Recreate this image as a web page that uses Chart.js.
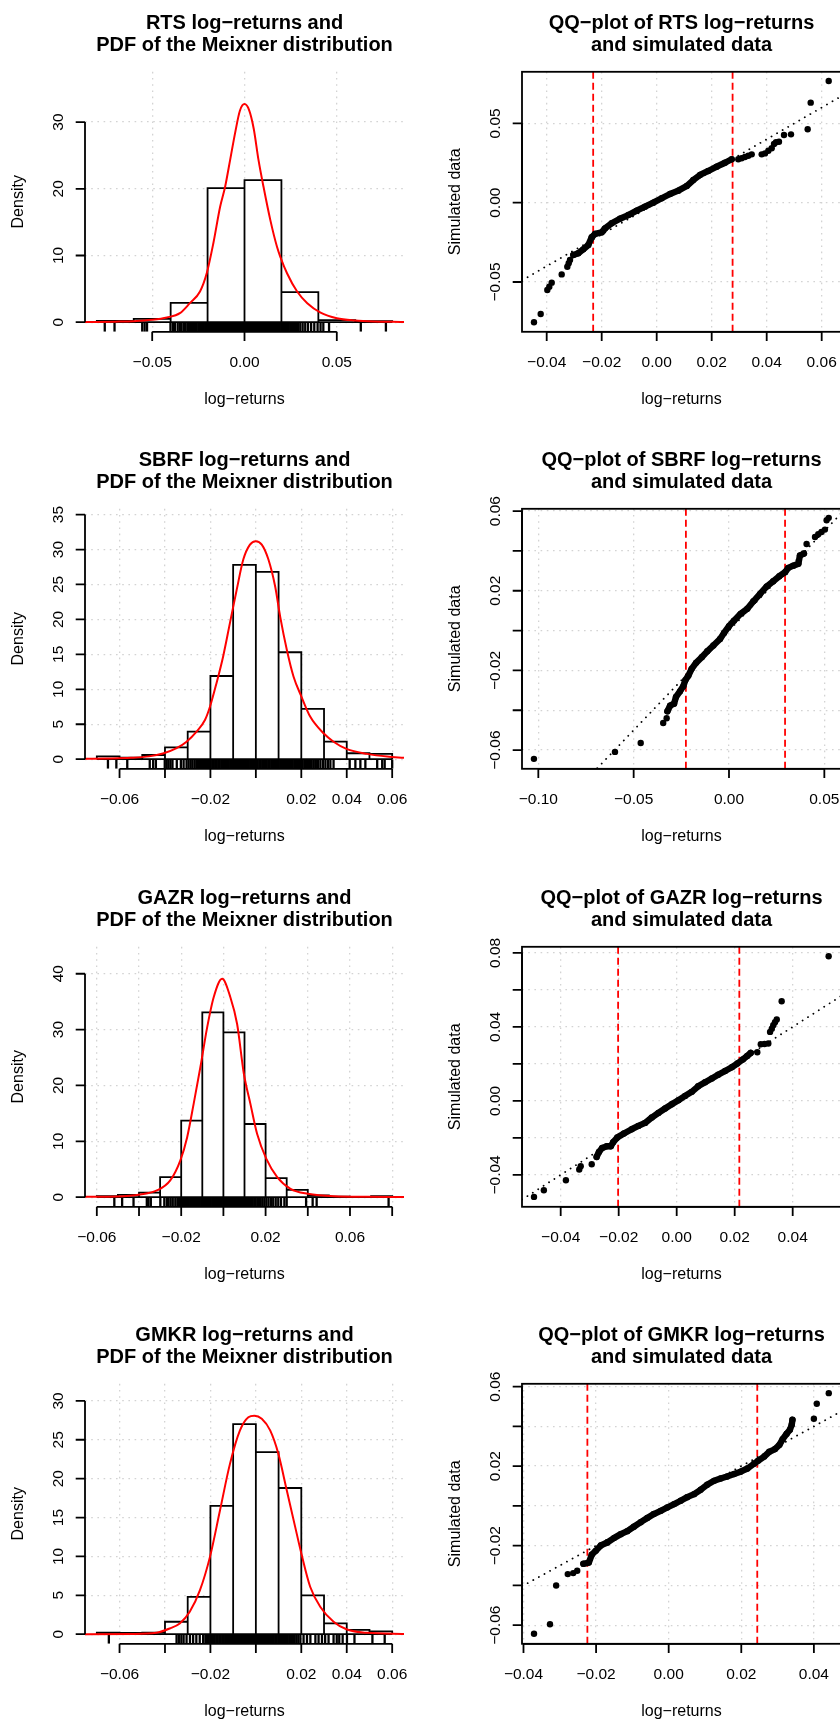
<!DOCTYPE html>
<html lang="en">
<head>
<meta charset="utf-8">
<title>Log-returns, Meixner PDF and QQ-plots</title>
<script src="https://cdn.jsdelivr.net/npm/chart.js@4.4.1/dist/chart.umd.min.js"></script>
<style>
  html, body { margin: 0; padding: 0; background: #ffffff; }
  body { width: 840px; height: 1721px; overflow: hidden; position: relative; }
  canvas { position: absolute; display: block; }
</style>
</head>
<body>
<canvas id="histRTS"  width="437" height="437" style="left:0px;top:0px;width:437px;height:437px"></canvas>
<canvas id="qqRTS"    width="437" height="437" style="left:437px;top:0px;width:437px;height:437px"></canvas>
<canvas id="histSBRF" width="437" height="437" style="left:0px;top:437px;width:437px;height:437px"></canvas>
<canvas id="qqSBRF"   width="437" height="437" style="left:437px;top:437px;width:437px;height:437px"></canvas>
<canvas id="histGAZR" width="437" height="437" style="left:0px;top:875px;width:437px;height:437px"></canvas>
<canvas id="qqGAZR"   width="437" height="437" style="left:437px;top:875px;width:437px;height:437px"></canvas>
<canvas id="histGMKR" width="437" height="437" style="left:0px;top:1312px;width:437px;height:437px"></canvas>
<canvas id="qqGMKR"   width="437" height="437" style="left:437px;top:1312px;width:437px;height:437px"></canvas>
<script>
// ======================= DATA =======================
const assets = ['RTS', 'SBRF', 'GAZR', 'GMKR'];

// ---- RTS ----
const histRtsBreaks  = [-0.08, -0.06, -0.04, -0.02, 0, 0.02, 0.04, 0.06, 0.08];
const histRtsDensity = [0.2, 0.5, 2.9, 20.1, 21.3, 4.5, 0.3, 0.15];
const histRtsXlim = [-0.08, 0.08];
const histRtsYmax = 36.1;
const pdfRtsX = [-0.0864, -0.08, -0.07, -0.06, -0.05, -0.042, -0.035, -0.0296, -0.0241, -0.0205, -0.0169, -0.0132, -0.0105, -0.0078, -0.005, -0.0025, 0, 0.0025, 0.005, 0.0076, 0.0103, 0.014, 0.0176, 0.0194, 0.0231, 0.0285, 0.034, 0.0412, 0.05, 0.06, 0.07, 0.08, 0.0864];
const pdfRtsY = [0.03, 0.04, 0.08, 0.15, 0.35, 0.7, 1.35, 2.85, 4.6, 7.3, 11.8, 17.3, 20.3, 24.3, 28.5, 31.7, 32.7, 31.8, 29.0, 24.3, 20.3, 15.3, 11.3, 9.8, 7.3, 4.6, 2.85, 1.44, 0.6, 0.25, 0.1, 0.05, 0.04];
const rugRts = [-0.0757, -0.0704, -0.0554, -0.0541, -0.0528, -0.0401, -0.0388, -0.0377, -0.0362, -0.0351, -0.0343, -0.0331, -0.0322, -0.0310, -0.0301, -0.0292, -0.0284, -0.0274, -0.0266, -0.0259, -0.0250, -0.0243, -0.0235, -0.0228, -0.0221, -0.0213, -0.0207, -0.0199, -0.0192, -0.0186, -0.0179, -0.0172, -0.0166, -0.0159, -0.0153, -0.0146, -0.0140, -0.0133, -0.0127, -0.0120, -0.0114, -0.0108, -0.0101, -0.0095, -0.0089, -0.0082, -0.0076, -0.0070, -0.0063, -0.0057, -0.0051, -0.0045, -0.0038, -0.0032, -0.0026, -0.0019, -0.0013, -0.0007, 0.0000, 0.0006, 0.0012, 0.0019, 0.0025, 0.0031, 0.0038, 0.0044, 0.0050, 0.0057, 0.0063, 0.0069, 0.0076, 0.0082, 0.0089, 0.0095, 0.0102, 0.0108, 0.0115, 0.0121, 0.0128, 0.0135, 0.0141, 0.0148, 0.0155, 0.0162, 0.0169, 0.0176, 0.0184, 0.0191, 0.0199, 0.0206, 0.0214, 0.0223, 0.0231, 0.0240, 0.0249, 0.0258, 0.0268, 0.0279, 0.0290, 0.0302, 0.0315, 0.0329, 0.0344, 0.0361, 0.0378, 0.0396, 0.0412, 0.0427, 0.0458, 0.0630, 0.0766];
const histRtsXTicks  = [-0.05, 0, 0.05];
const histRtsXLabels = ['−0.05', '0.00', '0.05'];
const histRtsYTicks  = [0, 10, 20, 30];
const histRtsYLabels = ['0', '10', '20', '30'];

const qqRtsBodyX = [-0.03032, -0.02851, -0.02669, -0.02487, -0.02364, -0.02244, -0.0200, -0.0188, -0.01636, -0.01335, -0.01032, -0.00727, -0.00425, -0.00124, 0.00182, 0.00484, 0.00785, 0.01091, 0.01331, 0.01575, 0.01876, 0.02182, 0.02484, 0.02727];
const qqRtsBodyY = [-0.0330, -0.0319, -0.0294, -0.0267, -0.0218, -0.0197, -0.0187, -0.0162, -0.0130, -0.0101, -0.0078, -0.0050, -0.0025, 0.0000, 0.0028, 0.0055, 0.0076, 0.0105, 0.0143, 0.0175, 0.0200, 0.0227, 0.0252, 0.0274];
const qqRtsTailX = [-0.04462, -0.04218, -0.03978, -0.03905, -0.03818, -0.03455, -0.0325, -0.0320, -0.03153, 0.02967, 0.03088, 0.03209, 0.0333, 0.03455, 0.03818, 0.03939, 0.0406, 0.04182, 0.04267, 0.04339, 0.04447, 0.04629, 0.04884, 0.0549, 0.056, 0.06255];
const qqRtsTailY = [-0.0754, -0.0702, -0.0550, -0.0530, -0.0504, -0.0452, -0.0404, -0.0382, -0.0361, 0.0274, 0.0280, 0.0288, 0.0296, 0.0305, 0.0305, 0.0311, 0.0328, 0.0343, 0.0370, 0.0381, 0.0384, 0.0427, 0.0431, 0.0463, 0.0631, 0.0767];
const qqRtsQuantiles = [-0.0231, 0.0276];
const qqRtsXlim = [-0.04898, 0.06702];
const qqRtsYlim = [-0.0814, 0.08254];
const qqRtsXTicks  = [-0.04, -0.02, 0, 0.02, 0.04, 0.06];
const qqRtsXLabels = ['−0.04', '−0.02', '0.00', '0.02', '0.04', '0.06'];
const qqRtsYTicks  = [-0.05, 0, 0.05];
const qqRtsYLabels = ['−0.05', '0.00', '0.05'];

// ---- SBRF ----
const histSbrfBreaks  = [-0.07, -0.06, -0.05, -0.04, -0.03, -0.02, -0.01, 0, 0.01, 0.02, 0.03, 0.04, 0.05, 0.06];
const histSbrfDensity = [0.4, 0.2, 0.6, 1.7, 3.95, 11.9, 27.8, 26.8, 15.3, 7.2, 2.5, 0.85, 0.75];
const histSbrfXlim = [-0.07, 0.06];
const histSbrfYmax = 34.45;
const pdfSbrfX = [-0.0752, -0.065, -0.055, -0.047, -0.0409, -0.0349, -0.0305, -0.0261, -0.0224, -0.0202, -0.0173, -0.0144, -0.0114, -0.0084, -0.0055, -0.0026, 0, 0.0026, 0.0055, 0.0085, 0.0107, 0.0136, 0.0166, 0.02, 0.0239, 0.0298, 0.0342, 0.0401, 0.049, 0.0578, 0.0652];
const pdfSbrfY = [0.05, 0.1, 0.2, 0.4, 0.8, 1.57, 2.5, 3.95, 5.6, 7.5, 10.9, 14.7, 19.5, 24.3, 28.6, 30.7, 31.2, 30.7, 28.6, 24.7, 20.4, 15.7, 11.8, 9.0, 6.1, 3.7, 2.5, 1.43, 0.76, 0.37, 0.2];
const rugSbrf = [-0.0651, -0.0614, -0.0566, -0.0467, -0.0452, -0.0440, -0.0401, -0.0393, -0.0385, -0.0376, -0.0367, -0.0348, -0.0330, -0.0318, -0.0305, -0.0296, -0.0287, -0.0279, -0.0270, -0.0262, -0.0254, -0.0246, -0.0240, -0.0233, -0.0227, -0.0220, -0.0212, -0.0206, -0.0199, -0.0192, -0.0186, -0.0179, -0.0172, -0.0165, -0.0159, -0.0152, -0.0145, -0.0139, -0.0132, -0.0125, -0.0119, -0.0112, -0.0105, -0.0099, -0.0092, -0.0085, -0.0079, -0.0072, -0.0065, -0.0059, -0.0052, -0.0045, -0.0039, -0.0032, -0.0025, -0.0019, -0.0012, -0.0005, 0.0001, 0.0008, 0.0015, 0.0021, 0.0028, 0.0035, 0.0041, 0.0048, 0.0055, 0.0061, 0.0068, 0.0075, 0.0081, 0.0088, 0.0095, 0.0101, 0.0108, 0.0115, 0.0121, 0.0128, 0.0135, 0.0141, 0.0148, 0.0155, 0.0162, 0.0169, 0.0176, 0.0183, 0.0190, 0.0198, 0.0205, 0.0213, 0.0221, 0.0229, 0.0238, 0.0246, 0.0255, 0.0264, 0.0274, 0.0284, 0.0295, 0.0306, 0.0317, 0.0328, 0.0342, 0.0413, 0.0438, 0.0460, 0.0482, 0.0534, 0.0556, 0.0567, 0.0600];
const histSbrfXTicks  = [-0.06, -0.04, -0.02, 0, 0.02, 0.04, 0.06];
const histSbrfXLabels = ['−0.06', '', '−0.02', '', '0.02', '0.04', '0.06'];
const histSbrfYTicks  = [0, 5, 10, 15, 20, 25, 30, 35];
const histSbrfYLabels = ['0', '5', '10', '15', '20', '25', '30', '35'];

const qqSbrfBodyX = [-0.0323, -0.0309, -0.0288, -0.0278, -0.0257, -0.0240, -0.0229, -0.0213, -0.0196, -0.0173, -0.0143, -0.0114, -0.0082, -0.0047, -0.0026, 0.0000, 0.0026, 0.0061, 0.0096, 0.0128, 0.0163, 0.0198, 0.0232, 0.0264, 0.0294, 0.0311, 0.0337, 0.0364, 0.0372, 0.0393];
const qqSbrfBodyY = [-0.0405, -0.0377, -0.0367, -0.0333, -0.0305, -0.0280, -0.0249, -0.0226, -0.0192, -0.0162, -0.0134, -0.0104, -0.0075, -0.0042, -0.0012, 0.0022, 0.0050, 0.0084, 0.0110, 0.0147, 0.0184, 0.0222, 0.0248, 0.0273, 0.0293, 0.0315, 0.0326, 0.0336, 0.0377, 0.0387];
const qqSbrfTailX = [-0.1023, -0.0598, -0.0463, -0.0345, -0.0327, 0.0407, 0.0451, 0.0468, 0.0485, 0.0503, 0.0512, 0.0523];
const qqSbrfTailY = [-0.0644, -0.0609, -0.0564, -0.0464, -0.0440, 0.0435, 0.0470, 0.0484, 0.0495, 0.0507, 0.0554, 0.0566];
const qqSbrfQuantiles = [-0.0226, 0.0294];
const qqSbrfXlim = [-0.10856, 0.05874];
const qqSbrfYlim = [-0.06939, 0.06115];
const qqSbrfXTicks  = [-0.10, -0.05, 0, 0.05];
const qqSbrfXLabels = ['−0.10', '−0.05', '0.00', '0.05'];
const qqSbrfYTicks  = [-0.06, -0.04, -0.02, 0, 0.02, 0.04, 0.06];
const qqSbrfYLabels = ['−0.06', '', '−0.02', '', '0.02', '', '0.06'];

// ---- GAZR ----
const histGazrBreaks  = [-0.06, -0.05, -0.04, -0.03, -0.02, -0.01, 0, 0.01, 0.02, 0.03, 0.04, 0.05, 0.06, 0.07, 0.08];
const histGazrDensity = [0.2, 0.4, 0.8, 3.6, 13.7, 33.1, 29.5, 13.1, 3.4, 1.3, 0.3, 0.1, 0, 0.2];
const histGazrXlim = [-0.06, 0.08];
const histGazrYmax = 43.1;
const pdfGazrX = [-0.0656, -0.0505, -0.0394, -0.0315, -0.0252, -0.0204, -0.0172, -0.0141, -0.0109, -0.0077, -0.0046, -0.0006, 0.0033, 0.0065, 0.0097, 0.0128, 0.016, 0.0203, 0.0255, 0.0318, 0.04, 0.0524, 0.0683, 0.0856];
const pdfGazrY = [0.06, 0.12, 0.48, 1.2, 3.0, 6.6, 10.7, 16.7, 23.3, 30.4, 35.8, 39.1, 35.8, 31.0, 22.1, 16.7, 11.3, 6.9, 3.6, 1.5, 0.6, 0.15, 0.06, 0.03];
const rugGazr = [-0.0517, -0.0480, -0.0426, -0.0363, -0.0355, -0.0344, -0.0299, -0.0280, -0.0268, -0.0260, -0.0250, -0.0240, -0.0228, -0.0218, -0.0210, -0.0204, -0.0197, -0.0191, -0.0184, -0.0177, -0.0171, -0.0164, -0.0157, -0.0151, -0.0144, -0.0138, -0.0131, -0.0125, -0.0118, -0.0112, -0.0105, -0.0099, -0.0092, -0.0086, -0.0079, -0.0073, -0.0066, -0.0060, -0.0053, -0.0047, -0.0040, -0.0034, -0.0027, -0.0021, -0.0014, -0.0008, -0.0001, 0.0005, 0.0012, 0.0018, 0.0025, 0.0031, 0.0038, 0.0044, 0.0051, 0.0057, 0.0064, 0.0070, 0.0077, 0.0083, 0.0090, 0.0097, 0.0103, 0.0110, 0.0117, 0.0124, 0.0131, 0.0138, 0.0146, 0.0153, 0.0161, 0.0169, 0.0177, 0.0186, 0.0195, 0.0204, 0.0214, 0.0225, 0.0236, 0.0248, 0.0260, 0.0273, 0.0289, 0.0300, 0.0392, 0.0423, 0.0442, 0.0783];
const histGazrXTicks  = [-0.06, -0.04, -0.02, 0, 0.02, 0.04, 0.06, 0.08];
const histGazrXLabels = ['−0.06', '', '−0.02', '', '0.02', '', '0.06', ''];
const histGazrYTicks  = [0, 10, 20, 30, 40];
const histGazrYLabels = ['0', '10', '20', '30', '40'];

const qqGazrBodyX = [-0.0276, -0.0268, -0.0257, -0.0241, -0.0227, -0.0219, -0.0205, -0.0182, -0.0155, -0.0132, -0.0109, -0.0086, -0.0063, -0.0040, -0.0017, 0.0006, 0.0029, 0.0052, 0.0074, 0.0098, 0.0121, 0.0143, 0.0167, 0.0190, 0.0209, 0.0228, 0.0243, 0.0255];
const qqGazrBodyY = [-0.0303, -0.0276, -0.0254, -0.0245, -0.0245, -0.0223, -0.0198, -0.0176, -0.0153, -0.0135, -0.0119, -0.0090, -0.0065, -0.0041, -0.0018, 0.0004, 0.0027, 0.0049, 0.0079, 0.0101, 0.0121, 0.0141, 0.0162, 0.0182, 0.0202, 0.0224, 0.0243, 0.0259];
const qqGazrTailX = [-0.0492, -0.0458, -0.0382, -0.0336, -0.0331, -0.0293, 0.0278, 0.0290, 0.0303, 0.0316, 0.0322, 0.0328, 0.0333, 0.0339, 0.0345, 0.0362, 0.0524];
const qqGazrTailY = [-0.0519, -0.0483, -0.0429, -0.0371, -0.0353, -0.0342, 0.0263, 0.0306, 0.0308, 0.0310, 0.0373, 0.0390, 0.0409, 0.0425, 0.0440, 0.0539, 0.0782];
const qqGazrQuantiles = [-0.0202, 0.0216];
const qqGazrXlim = [-0.05334, 0.05666];
const qqGazrYlim = [-0.05724, 0.0833];
const qqGazrXTicks  = [-0.04, -0.02, 0, 0.02, 0.04];
const qqGazrXLabels = ['−0.04', '−0.02', '0.00', '0.02', '0.04'];
const qqGazrYTicks  = [-0.04, -0.02, 0, 0.02, 0.04, 0.06, 0.08];
const qqGazrYLabels = ['−0.04', '', '0.00', '', '0.04', '', '0.08'];

// ---- GMKR ----
const histGmkrBreaks  = [-0.07, -0.06, -0.05, -0.04, -0.03, -0.02, -0.01, 0, 0.01, 0.02, 0.03, 0.04, 0.05, 0.06];
const histGmkrDensity = [0.2, 0.15, 0.2, 1.6, 4.8, 16.5, 27.0, 23.4, 18.8, 5.0, 1.4, 0.56, 0.35];
const histGmkrXlim = [-0.07, 0.06];
const histGmkrYmax = 30.96;
const pdfGmkrX = [-0.0752, -0.0541, -0.0438, -0.0379, -0.0335, -0.0291, -0.0246, -0.0202, -0.0158, -0.0114, -0.007, -0.0033, -0.0007, 0.0026, 0.0063, 0.0099, 0.0136, 0.0173, 0.02, 0.0239, 0.0284, 0.0342, 0.0401, 0.049, 0.0652];
const pdfGmkrY = [0.0, 0.02, 0.17, 0.73, 1.37, 2.87, 5.66, 9.94, 15.9, 21.9, 26.2, 27.9, 28.1, 27.7, 26.2, 23.2, 18.5, 13.8, 10.4, 6.1, 3.5, 1.6, 0.6, 0.17, 0.03];
const rugGmkr = [-0.0647, -0.0349, -0.0339, -0.0328, -0.0318, -0.0305, -0.0290, -0.0276, -0.0262, -0.0247, -0.0232, -0.0222, -0.0215, -0.0208, -0.0201, -0.0194, -0.0188, -0.0181, -0.0174, -0.0168, -0.0161, -0.0155, -0.0148, -0.0142, -0.0135, -0.0129, -0.0122, -0.0116, -0.0109, -0.0103, -0.0096, -0.0090, -0.0083, -0.0077, -0.0070, -0.0064, -0.0057, -0.0051, -0.0044, -0.0038, -0.0031, -0.0025, -0.0018, -0.0012, -0.0005, 0.0001, 0.0008, 0.0014, 0.0021, 0.0027, 0.0034, 0.0040, 0.0047, 0.0053, 0.0060, 0.0066, 0.0073, 0.0079, 0.0086, 0.0092, 0.0099, 0.0106, 0.0112, 0.0119, 0.0126, 0.0133, 0.0140, 0.0147, 0.0155, 0.0163, 0.0171, 0.0179, 0.0187, 0.0196, 0.0210, 0.0225, 0.0240, 0.0262, 0.0276, 0.0291, 0.0305, 0.0320, 0.0342, 0.0356, 0.0367, 0.0382, 0.0401, 0.0434, 0.0513, 0.0567];
const histGmkrXTicks  = [-0.06, -0.04, -0.02, 0, 0.02, 0.04, 0.06];
const histGmkrXLabels = ['−0.06', '', '−0.02', '', '0.02', '0.04', '0.06'];
const histGmkrYTicks  = [0, 5, 10, 15, 20, 25, 30];
const histGmkrYLabels = ['0', '5', '10', '15', '20', '25', '30'];

const qqGmkrBodyX = [-0.0235, -0.0220, -0.0212, -0.0201, -0.0187, -0.0169, -0.0151, -0.0132, -0.0114, -0.0096, -0.0077, -0.0059, -0.0041, -0.0022, -0.0004, 0.0015, 0.0033, 0.0051, 0.0070, 0.0088, 0.0106, 0.0125, 0.0143, 0.0161, 0.0180, 0.0198, 0.0217, 0.0235, 0.0247, 0.0263, 0.0277, 0.0293, 0.0305, 0.0314, 0.0325, 0.0334, 0.0339, 0.0341];
const qqGmkrBodyY = [-0.0291, -0.0285, -0.0246, -0.0226, -0.0199, -0.0184, -0.0162, -0.0142, -0.0127, -0.0105, -0.0082, -0.0061, -0.0041, -0.0025, -0.0008, 0.0009, 0.0026, 0.0044, 0.0059, 0.0081, 0.0106, 0.0126, 0.0138, 0.0148, 0.0160, 0.0172, 0.0188, 0.0212, 0.0228, 0.0248, 0.0272, 0.0286, 0.0307, 0.0336, 0.0363, 0.0383, 0.0408, 0.0433];
const qqGmkrTailX = [-0.0371, -0.0327, -0.0310, -0.0278, -0.0263, -0.0252, 0.0400, 0.0408, 0.0441];
const qqGmkrTailY = [-0.0643, -0.0595, -0.0400, -0.0343, -0.0338, -0.0326, 0.0438, 0.0514, 0.0567];
const qqGmkrQuantiles = [-0.0224, 0.0244];
const qqGmkrXlim = [-0.04041, 0.04747];
const qqGmkrYlim = [-0.06936, 0.06141];
const qqGmkrXTicks  = [-0.04, -0.02, 0, 0.02, 0.04];
const qqGmkrXLabels = ['−0.04', '−0.02', '0.00', '0.02', '0.04'];
const qqGmkrYTicks  = [-0.06, -0.04, -0.02, 0, 0.02, 0.04, 0.06];
const qqGmkrYLabels = ['−0.06', '', '−0.02', '', '0.02', '', '0.06'];

// reference line of the QQ-plots: intercept, slope
const qqLineCoef = [0, 1];

// ======================= STYLE / LAYOUT =======================
const FONT = '"Liberation Sans", Arial, Helvetica, sans-serif';
const SIZE = 437;
const PAD = { left: 85, top: 71.8, right: 33, bottom: 105.2 };
const PLOT_H = SIZE - PAD.top - PAD.bottom;
const RUG_LEN = 9.3;

// R-style axes, box, titles
const rPlot = {
  id: 'rPlot',
  afterDraw(chart, args, o) {
    const ctx = chart.ctx, a = chart.chartArea;
    const sx = chart.scales.x, sy = chart.scales.y;
    const cx = (a.left + a.right) / 2, cy = (a.top + a.bottom) / 2;
    ctx.save();
    ctx.strokeStyle = '#000'; ctx.fillStyle = '#000';
    ctx.lineWidth = 1.8; ctx.setLineDash([]); ctx.lineCap = 'butt';
    if (o.box) ctx.strokeRect(a.left, a.top, a.right - a.left, a.bottom - a.top);
    const xp = o.xTicks.map(v => sx.getPixelForValue(v));
    const yp = o.yTicks.map(v => sy.getPixelForValue(v));
    ctx.beginPath();
    ctx.moveTo(xp[0], a.bottom); ctx.lineTo(xp[xp.length - 1], a.bottom);
    xp.forEach(p => { ctx.moveTo(p, a.bottom); ctx.lineTo(p, a.bottom + 9.3); });
    ctx.moveTo(a.left, yp[0]); ctx.lineTo(a.left, yp[yp.length - 1]);
    yp.forEach(p => { ctx.moveTo(a.left, p); ctx.lineTo(a.left - 9.3, p); });
    ctx.stroke();

    ctx.font = '15.5px ' + FONT;
    ctx.textAlign = 'center'; ctx.textBaseline = 'alphabetic';
    xp.forEach((p, i) => { if (o.xLabels[i]) ctx.fillText(o.xLabels[i], p, a.bottom + 34.7); });
    yp.forEach((p, i) => {
      if (!o.yLabels[i]) return;
      ctx.save(); ctx.translate(a.left - 22.5, p); ctx.rotate(-Math.PI / 2);
      ctx.fillText(o.yLabels[i], 0, 0); ctx.restore();
    });

    ctx.font = '16px ' + FONT;
    ctx.fillText(o.xlab, cx, a.bottom + 71.7);
    ctx.save(); ctx.translate(23, cy); ctx.rotate(-Math.PI / 2);
    ctx.fillText(o.ylab, 0, 0); ctx.restore();

    ctx.font = 'bold 20px ' + FONT;
    ctx.fillText(o.title[0], cx, 28.5);
    ctx.fillText(o.title[1], cx, 51);
    ctx.restore();
  }
};

function gridScale(min, max, ticks) {
  return {
    type: 'linear', min: min, max: max,
    ticks: { display: false },
    grid: { color: '#d3d3d3', lineWidth: 1.3, drawTicks: false },
    border: { display: false, dash: [1.6, 4.6] },
    afterBuildTicks: s => { s.ticks = ticks.map(v => ({ value: v })); }
  };
}

function baseOptions(xr, yr, p, extra) {
  return {
    responsive: false, maintainAspectRatio: false, animation: false,
    devicePixelRatio: 1, events: [],
    layout: { padding: PAD },
    scales: { x: gridScale(xr[0], xr[1], p.xTicks), y: gridScale(yr[0], yr[1], p.yTicks) },
    plugins: {
      legend: { display: false }, tooltip: { enabled: false }, title: { display: false },
      rPlot: Object.assign({ xTicks: p.xTicks, xLabels: p.xLabels, yTicks: p.yTicks, yLabels: p.yLabels }, extra)
    }
  };
}

function extendRange(lim) { const d = (lim[1] - lim[0]) * 0.04; return [lim[0] - d, lim[1] + d]; }

function histChart(id, name, p) {
  const xr = extendRange(p.xlim);
  const yr = [-0.04 * p.ymax, 1.04 * p.ymax];
  const outline = [];
  p.density.forEach((h, i) => {
    outline.push({ x: p.breaks[i], y: 0 }, { x: p.breaks[i], y: h },
                 { x: p.breaks[i + 1], y: h }, { x: p.breaks[i + 1], y: 0 });
  });
  const rugY = yr[0] + (yr[1] - yr[0]) * (RUG_LEN / 2) / PLOT_H;
  new Chart(document.getElementById(id), {
    type: 'scatter',
    data: { datasets: [
      { data: p.pdfX.map((x, i) => ({ x: x, y: p.pdfY[i] })), showLine: true,
        borderColor: '#ff0000', borderWidth: 2, pointRadius: 0, cubicInterpolationMode: 'monotone', order: 1 },
      { data: p.rug.map(x => ({ x: x, y: rugY })), showLine: false, pointStyle: 'line', pointRotation: 90,
        pointRadius: RUG_LEN / 2, pointBorderWidth: 2.3, pointBorderColor: '#000', order: 2 },
      { data: [{ x: p.breaks[0], y: 0 }, { x: p.breaks[p.breaks.length - 1], y: 0 }], showLine: true,
        borderColor: '#000', borderWidth: 1.8, pointRadius: 0, order: 3 },
      { data: outline, showLine: true, borderColor: '#000', borderWidth: 1.8, pointRadius: 0,
        fill: 'origin', backgroundColor: '#ffffff', tension: 0, order: 4 }
    ]},
    options: baseOptions(xr, yr, p, {
      box: false, xlab: 'log−returns', ylab: 'Density',
      title: [name + ' log−returns and', 'PDF of the Meixner distribution']
    }),
    plugins: [rPlot]
  });
}

function qqChart(id, name, p) {
  const xr = p.xlim, yr = p.ylim;
  const datasets = [
    { data: p.bodyX.map((x, i) => ({ x: x, y: p.bodyY[i] })), showLine: true,
      borderColor: '#000', borderWidth: 6.4, borderCapStyle: 'round', borderJoinStyle: 'round',
      pointRadius: 3.2, pointBackgroundColor: '#000', pointBorderWidth: 0, order: 1 },
    { data: p.tailX.map((x, i) => ({ x: x, y: p.tailY[i] })), showLine: false,
      pointRadius: 3.2, pointBackgroundColor: '#000', pointBorderWidth: 0, order: 1 },
    { data: [xr[0], xr[1]].map(x => ({ x: x, y: qqLineCoef[0] + qqLineCoef[1] * x })), showLine: true,
      borderColor: '#000', borderWidth: 1.8, borderDash: [0.1, 6.3], borderCapStyle: 'round',
      pointRadius: 0, order: 2 }
  ];
  p.quantiles.forEach(q => datasets.push({
    data: [{ x: q, y: yr[0] }, { x: q, y: yr[1] }], showLine: true,
    borderColor: '#ff0000', borderWidth: 1.8, borderDash: [7, 4], pointRadius: 0, order: 3
  }));
  new Chart(document.getElementById(id), {
    type: 'scatter',
    data: { datasets: datasets },
    options: baseOptions(xr, yr, p, {
      box: true, xlab: 'log−returns', ylab: 'Simulated data',
      title: ['QQ−plot of ' + name + ' log−returns', 'and simulated data']
    }),
    plugins: [rPlot]
  });
}

// ======================= BUILD =======================
histChart('histRTS', assets[0], { breaks: histRtsBreaks, density: histRtsDensity, xlim: histRtsXlim, ymax: histRtsYmax,
  pdfX: pdfRtsX, pdfY: pdfRtsY, rug: rugRts, xTicks: histRtsXTicks, xLabels: histRtsXLabels, yTicks: histRtsYTicks, yLabels: histRtsYLabels });
qqChart('qqRTS', assets[0], { bodyX: qqRtsBodyX, bodyY: qqRtsBodyY, tailX: qqRtsTailX, tailY: qqRtsTailY, quantiles: qqRtsQuantiles,
  xlim: qqRtsXlim, ylim: qqRtsYlim, xTicks: qqRtsXTicks, xLabels: qqRtsXLabels, yTicks: qqRtsYTicks, yLabels: qqRtsYLabels });

histChart('histSBRF', assets[1], { breaks: histSbrfBreaks, density: histSbrfDensity, xlim: histSbrfXlim, ymax: histSbrfYmax,
  pdfX: pdfSbrfX, pdfY: pdfSbrfY, rug: rugSbrf, xTicks: histSbrfXTicks, xLabels: histSbrfXLabels, yTicks: histSbrfYTicks, yLabels: histSbrfYLabels });
qqChart('qqSBRF', assets[1], { bodyX: qqSbrfBodyX, bodyY: qqSbrfBodyY, tailX: qqSbrfTailX, tailY: qqSbrfTailY, quantiles: qqSbrfQuantiles,
  xlim: qqSbrfXlim, ylim: qqSbrfYlim, xTicks: qqSbrfXTicks, xLabels: qqSbrfXLabels, yTicks: qqSbrfYTicks, yLabels: qqSbrfYLabels });

histChart('histGAZR', assets[2], { breaks: histGazrBreaks, density: histGazrDensity, xlim: histGazrXlim, ymax: histGazrYmax,
  pdfX: pdfGazrX, pdfY: pdfGazrY, rug: rugGazr, xTicks: histGazrXTicks, xLabels: histGazrXLabels, yTicks: histGazrYTicks, yLabels: histGazrYLabels });
qqChart('qqGAZR', assets[2], { bodyX: qqGazrBodyX, bodyY: qqGazrBodyY, tailX: qqGazrTailX, tailY: qqGazrTailY, quantiles: qqGazrQuantiles,
  xlim: qqGazrXlim, ylim: qqGazrYlim, xTicks: qqGazrXTicks, xLabels: qqGazrXLabels, yTicks: qqGazrYTicks, yLabels: qqGazrYLabels });

histChart('histGMKR', assets[3], { breaks: histGmkrBreaks, density: histGmkrDensity, xlim: histGmkrXlim, ymax: histGmkrYmax,
  pdfX: pdfGmkrX, pdfY: pdfGmkrY, rug: rugGmkr, xTicks: histGmkrXTicks, xLabels: histGmkrXLabels, yTicks: histGmkrYTicks, yLabels: histGmkrYLabels });
qqChart('qqGMKR', assets[3], { bodyX: qqGmkrBodyX, bodyY: qqGmkrBodyY, tailX: qqGmkrTailX, tailY: qqGmkrTailY, quantiles: qqGmkrQuantiles,
  xlim: qqGmkrXlim, ylim: qqGmkrYlim, xTicks: qqGmkrXTicks, xLabels: qqGmkrXLabels, yTicks: qqGmkrYTicks, yLabels: qqGmkrYLabels });
</script>
</body>
</html>
